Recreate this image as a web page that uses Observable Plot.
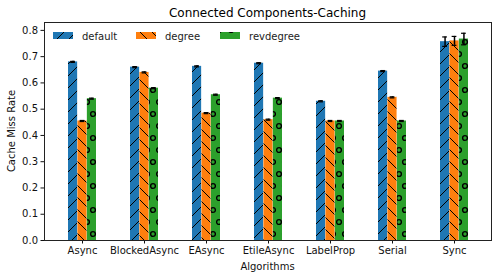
<!DOCTYPE html>
<html><head><meta charset="utf-8">
<script src="https://cdn.jsdelivr.net/npm/d3@7"></script>
<script src="https://cdn.jsdelivr.net/npm/@observablehq/plot@0.6"></script>
<style>
body{margin:0;background:#fff;}
#chart svg{font-family:"DejaVu Sans",sans-serif;background:#fff;}
</style>
</head><body><div id="chart"></div>
<script>
const algorithms = ["Async","BlockedAsync","EAsync","EtileAsync","LabelProp","Serial","Sync"];
const series = ["default","degree","revdegree"];
const defaultVals = [0.680,0.660,0.663,0.675,0.530,0.645,0.757];
const degreeVals = [0.455,0.640,0.485,0.460,0.455,0.545,0.760];
const revdegreeVals = [0.540,0.580,0.555,0.542,0.455,0.455,0.767];
const defaultErr = [0.002,0.002,0.002,0.002,0.002,0.002,0.018];
const degreeErr = [0.002,0.002,0.002,0.002,0.002,0.002,0.017];
const revdegreeErr = [0.002,0.002,0.002,0.002,0.002,0.002,0.022];
const yTicks = [0,0.1,0.2,0.3,0.4,0.5,0.6,0.7,0.8];
const colors = ["#1f77b4","#ff7f0e","#2ca02c"];
const title = "Connected Components-Caching";
const xLabel = "Algorithms";
const yLabel = "Cache Miss Rate";

const valsBySeries = [defaultVals, degreeVals, revdegreeVals];
const errBySeries = [defaultErr, degreeErr, revdegreeErr];
const data = series.map((s, i) => algorithms.map((a, j) => ({algo: a, series: s, value: valsBySeries[i][j], err: errBySeries[i][j]})));

const W = 501, H = 278, mL = 44, mR = 10, mT = 22, mB = 38;
const paddingInner = 0.55, paddingOuter = 0.33;
const step = (W - mL - mR) / (algorithms.length - paddingInner + 2 * paddingOuter);
const bw = step * (1 - paddingInner) / 3;

const marks = [];
series.forEach((s, i) => {
  marks.push(Plot.barY(data[i], {x: "algo", y: "value", fill: `url(#pat-${i})`, insetLeft: i * bw, insetRight: (2 - i) * bw}));
});
series.forEach((s, i) => {
  marks.push(Plot.ruleX(data[i], {x: "algo", y1: d => d.value - d.err, y2: d => d.value + d.err, dx: (i - 1) * bw, stroke: "black", strokeWidth: 1.5}));
  marks.push(Plot.tickY(data[i], {x: "algo", y: d => d.value + d.err, insetLeft: i * bw + 2.2, insetRight: (2 - i) * bw + 2.2, stroke: "black", strokeWidth: 1.2}));
  marks.push(Plot.tickY(data[i], {x: "algo", y: d => d.value - d.err, insetLeft: i * bw + 2.2, insetRight: (2 - i) * bw + 2.2, stroke: "black", strokeWidth: 1.2}));
});
marks.push(Plot.frame({stroke: "#222", strokeWidth: 1}));

const chart = Plot.plot({
  width: W, height: H,
  marginLeft: mL, marginRight: mR, marginTop: mT, marginBottom: mB,
  style: {fontSize: "10px", fontFamily: "DejaVu Sans", color: "#111", background: "white"},
  x: {type: "band", domain: algorithms, paddingInner, paddingOuter, label: null, tickSize: 3.5, tickPadding: 3},
  y: {domain: [0, 0.83], ticks: yTicks, tickFormat: ".1f", label: null, tickSize: 3.5, tickPadding: 3},
  marks
});

const svg = d3.select(chart.tagName.toLowerCase() === "svg" ? chart : chart.querySelector("svg"));
const defs = svg.insert("defs", ":first-child");
// default: '/' hatch
const p0 = defs.append("pattern").attr("id", "pat-0").attr("patternUnits", "userSpaceOnUse").attr("width", 12).attr("height", 12);
p0.append("rect").attr("width", 12).attr("height", 12).attr("fill", colors[0]);
p0.append("path").attr("d", "M-1,13 L13,-1 M-7,7 L7,-7 M5,19 L19,5").attr("stroke", "black").attr("stroke-width", 1);
// degree: '\' hatch
const p1 = defs.append("pattern").attr("id", "pat-1").attr("patternUnits", "userSpaceOnUse").attr("width", 12).attr("height", 12);
p1.append("rect").attr("width", 12).attr("height", 12).attr("fill", colors[1]);
p1.append("path").attr("d", "M-1,-1 L13,13 M-7,5 L7,19 M5,-7 L19,7").attr("stroke", "black").attr("stroke-width", 1);
// revdegree: 'o' hatch
const p2 = defs.append("pattern").attr("id", "pat-2").attr("patternUnits", "userSpaceOnUse").attr("width", 12).attr("height", 24);
p2.append("rect").attr("width", 12).attr("height", 24).attr("fill", colors[2]);
[[3, 6], [9, 18]].forEach(([cx, cy]) => p2.append("circle").attr("cx", cx).attr("cy", cy).attr("r", 2.4).attr("fill", "none").attr("stroke", "black").attr("stroke-width", 1.4));

// title and axis labels
svg.append("text").attr("x", mL + (W - mL - mR) / 2).attr("y", 17).attr("text-anchor", "middle")
  .attr("font-size", 12).attr("fill", "black").text(title);
svg.append("text").attr("x", mL + (W - mL - mR) / 2).attr("y", 270).attr("text-anchor", "middle")
  .attr("font-size", 10).attr("fill", "#111").text(xLabel);
svg.append("text").attr("transform", `translate(15,${mT + (H - mT - mB) / 2}) rotate(-90)`).attr("text-anchor", "middle")
  .attr("font-size", 10).attr("fill", "#111").text(yLabel);

// legend
const lx = [53, 136, 220];
const lg = svg.append("g").attr("text-anchor", "start");
series.forEach((s, i) => {
  lg.append("rect").attr("x", lx[i]).attr("y", 32).attr("width", 20).attr("height", 7).attr("fill", `url(#pat-${i})`);
  lg.append("text").attr("x", lx[i] + 29).attr("y", 40).attr("text-anchor", "start").attr("font-size", 10).attr("fill", "#222").text(s);
});

document.getElementById("chart").appendChild(chart);
</script>
</body></html>
